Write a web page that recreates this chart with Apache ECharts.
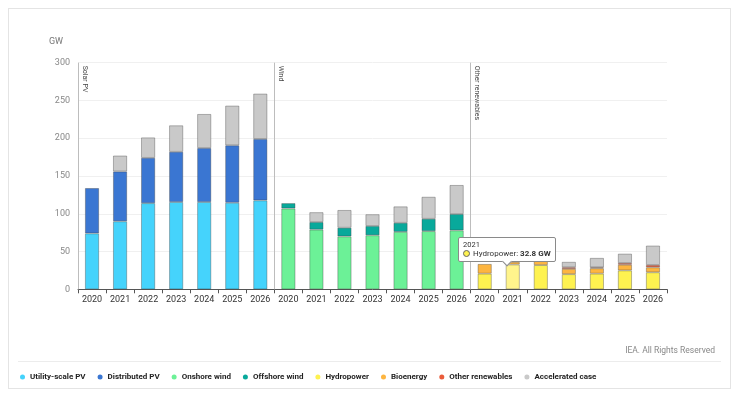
<!DOCTYPE html>
<html><head><meta charset="utf-8">
<script src="https://cdn.jsdelivr.net/npm/echarts@6/dist/echarts.min.js"></script>
<style>
html,body{margin:0;padding:0;background:#fff;}
#frame{position:absolute;left:8px;top:8px;width:723px;height:381px;border:1px solid #e4e4e4;box-sizing:border-box;}
#rule{position:absolute;left:18px;top:361px;width:703px;height:1px;background:#ececec;}
#chart{position:absolute;left:0;top:0;width:739px;height:395px;}
</style></head><body>
<div id="frame"></div><div id="rule"></div><div id="chart"></div>
<script>
// ---- data ----
const years = ['2020', '2021', '2022', '2023', '2024', '2025', '2026'];
const groups = ['Solar PV', 'Wind', 'Other renewables'];
const utilityPV        = [74, 90, 114, 115.5, 115.5, 114.6, 117.7];
const distributedPV    = [60, 66, 60, 66.5, 71.5, 76, 81.3];
const solarAccelerated = [null, 21, 27, 35, 45, 52.5, 60];
const onshoreWind      = [107, 79, 70, 71.5, 76, 77, 78];
const offshoreWind     = [7, 10, 11.5, 12.3, 12, 16.3, 21.6];
const windAccelerated  = [null, 13, 23.4, 15.5, 21.7, 29.1, 38.4];
const hydropower       = [20.7, 32.8, 32, 20, 20.7, 25, 22.5];
const bioenergy        = [12.8, 3.5, 8, 7, 7.1, 7.5, 6.6];
const otherRenewables  = [null, null, null, 2.2, 1.3, 2.3, 3.1];
const otherAccelerated = [null, null, null, 7.1, 12.4, 12.3, 25.6];
const yMax = 300, yStep = 50;
const tipSeries = 'Hydropower', tipYear = '2021';

// ---- build ----
const categories = groups.flatMap(() => years);
function place(arr, g) {
  const out = new Array(years.length * groups.length).fill('-');
  arr.forEach((v, i) => { out[g * years.length + i] = (v == null ? '-' : v); });
  return out;
}
const accelerated = place(solarAccelerated, 0).map((v, i) => {
  const w = place(windAccelerated, 1)[i], o = place(otherAccelerated, 2)[i];
  return v !== '-' ? v : (w !== '-' ? w : o);
});
const seriesDefs = [
  ['Utility-scale PV', place(utilityPV, 0), '#45d3fc'],
  ['Distributed PV', place(distributedPV, 0), '#3a76d2'],
  ['Onshore wind', place(onshoreWind, 1), '#6cf197'],
  ['Offshore wind', place(offshoreWind, 1), '#08a99b'],
  ['Hydropower', place(hydropower, 2), '#fef250'],
  ['Bioenergy', place(bioenergy, 2), '#fdb540'],
  ['Other renewables', place(otherRenewables, 2), '#ea5c3a'],
  ['Accelerated case', accelerated, '#c9c9c9']
];
const FONT = 'Roboto';
const chart = echarts.init(document.getElementById('chart'));
const series = seriesDefs.map(([name, data, color]) => ({
  name, type: 'bar', stack: 'all', data, barWidth: '50%',
  itemStyle: { color, borderColor: 'rgba(60,60,60,0.45)', borderWidth: 0.8 },
  emphasis: { itemStyle: { color: name === 'Hydropower' ? '#fff48c' : color } }
}));
series.push({
  name: 'sep', type: 'line', xAxisIndex: 1, yAxisIndex: 0, data: [], silent: true,
  markLine: {
    silent: true, symbol: 'none', animation: false,
    lineStyle: { color: '#bdbdbd', type: 'solid', width: 1 },
    label: { show: true, position: 'insideStartTop', formatter: p => p.name,
             fontFamily: FONT, fontSize: 7, color: '#444', distance: 3 },
    data: groups.map((g, i) => [
      { name: g, xAxis: i * years.length, yAxis: yMax },
      { xAxis: i * years.length, yAxis: 0 }
    ])
  }
});
chart.setOption({
  animation: false,
  textStyle: { fontFamily: FONT },
  title: { text: 'IEA. All Rights Reserved', right: 19, top: 341,
           textStyle: { fontFamily: FONT, fontSize: 8.5, fontWeight: 'normal', color: '#888' } },
  grid: { left: 78, right: 72, top: 62.7, bottom: 105.7 },
  legend: {
    data: seriesDefs.map(d => d[0]), left: 15, top: 368, icon: 'circle',
    itemWidth: 5, itemHeight: 5, itemGap: 12,
    itemStyle: { borderWidth: 0 },
    textStyle: { fontFamily: FONT, fontSize: 8, fontWeight: 'bold', color: '#222', padding: [0, 0, 0, 0] }
  },
  tooltip: {
    trigger: 'item', triggerOn: 'none', alwaysShowContent: true, position: 'top',
    backgroundColor: '#fff', borderColor: '#8a8a8a', borderWidth: 1, padding: [2, 4],
    extraCssText: 'box-shadow:none;border-radius:2px;margin-top:7px;margin-left:-6px;',
    formatter: p => '<div style="font-family:' + FONT + ';font-size:7.5px;line-height:9px;color:#333">' +
      years[p.dataIndex % years.length] + '</div>' +
      '<div style="font-family:' + FONT + ';font-size:8px;line-height:10px;color:#333">' +
      '<span style="display:inline-block;width:5px;height:5px;border-radius:50%;border:1px solid #666;background:' +
      p.color + ';margin-right:3px;vertical-align:-1px"></span>' + p.seriesName + ': <b>' + p.value + ' GW</b></div>'
  },
  xAxis: [{
    type: 'category', data: categories,
    axisLine: { lineStyle: { color: '#555' } },
    axisTick: { show: true, interval: 0, length: 4, lineStyle: { color: '#555' } },
    axisLabel: { interval: 0, fontFamily: FONT, fontSize: 9, color: '#333', margin: 6 }
  }, {
    type: 'value', min: 0, max: categories.length, show: false
  }],
  yAxis: {
    type: 'value', min: 0, max: yMax, interval: yStep, name: 'GW', nameGap: 16,
    nameTextStyle: { fontFamily: FONT, fontSize: 9, color: '#777', align: 'right', padding: [0, 15, 0, 0] },
    axisLine: { show: false }, axisTick: { show: false },
    axisLabel: { fontFamily: FONT, fontSize: 9, color: '#888', margin: 8 },
    splitLine: { lineStyle: { color: '#f0f0f0' } }
  },
  series
});
const si = seriesDefs.findIndex(d => d[0] === tipSeries);
const di = 2 * years.length + years.indexOf(tipYear);
chart.dispatchAction({ type: 'highlight', seriesIndex: si, dataIndex: di });
chart.dispatchAction({ type: 'showTip', seriesIndex: si, dataIndex: di });
</script>
</body></html>
